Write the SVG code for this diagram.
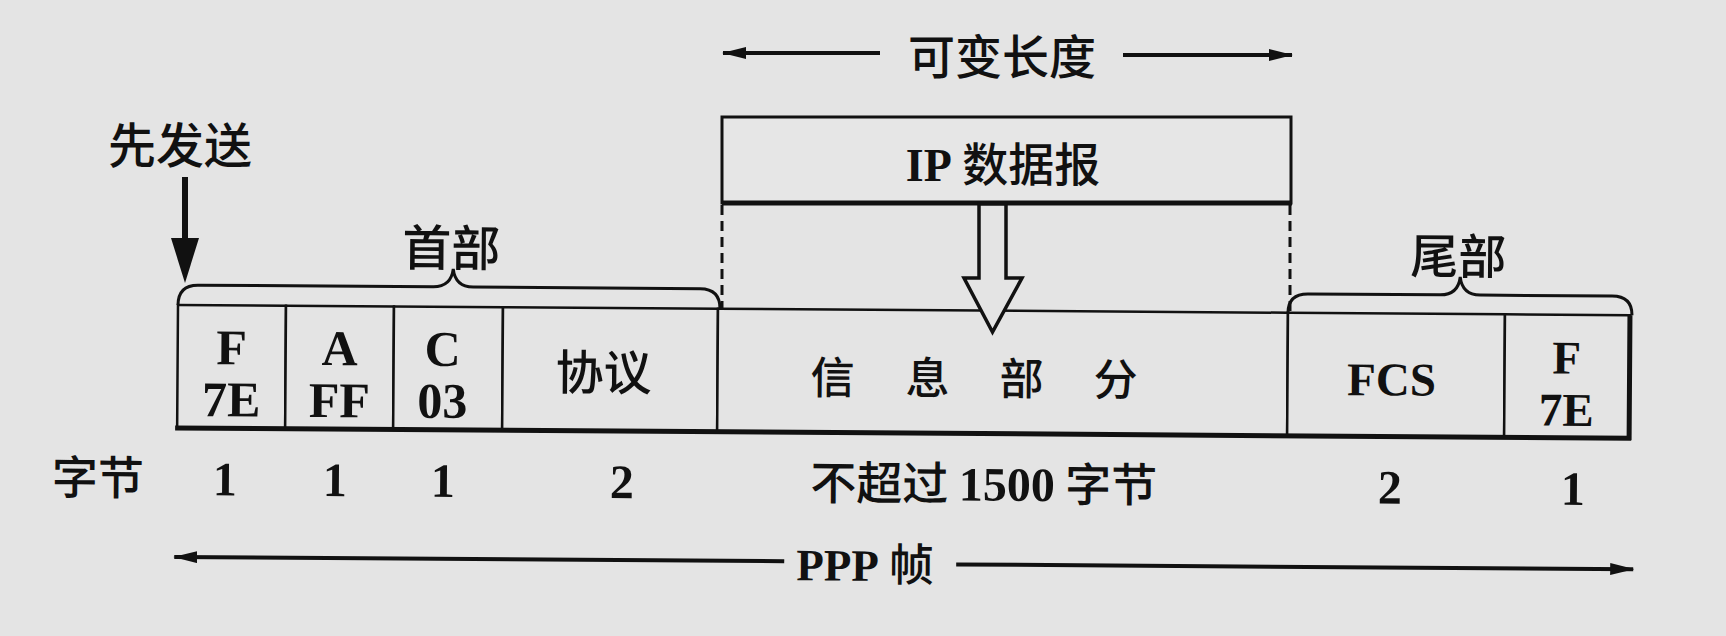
<svg xmlns="http://www.w3.org/2000/svg" width="1726" height="636" viewBox="0 0 1726 636">
<defs>
<style>
.bg{fill:#e4e4e4}
.cell{fill:#e4e4e4;stroke:#111;stroke-width:2.5}
.thick{stroke:#111;stroke-width:5;fill:none}
.ln{stroke:#111;stroke-width:4;fill:none}
.brace{stroke:#111;stroke-width:3;fill:none}
.dash{stroke:#111;stroke-width:3;stroke-dasharray:10 6;fill:none}
.cjk{font-family:"Noto Sans CJK SC","Noto Sans",sans-serif;font-weight:500;fill:#111;text-anchor:middle}
.ser{font-family:"Liberation Serif","Noto Sans CJK SC",serif;font-weight:normal;fill:#111;text-anchor:middle}
.b{font-weight:bold}
</style>
<marker id="ah" viewBox="0 0 24 12" refX="23" refY="6" markerWidth="24" markerHeight="12" markerUnits="userSpaceOnUse" orient="auto-start-reverse">
<path d="M0,0 L24,6 L0,12 z" fill="#111"/>
</marker>
</defs>
<rect class="bg" x="0" y="0" width="1726" height="636"/>

<g id="frame" transform="rotate(0.4 178 305)">
  <g id="cell-F1"><rect class="cell" x="178" y="305" width="108" height="123"/>
    <text class="ser b" x="232" y="364" font-size="50">F</text>
    <text class="ser b" x="232" y="416" font-size="50">7E</text></g>
  <g id="cell-A"><rect class="cell" x="286" y="305" width="108" height="123"/>
    <text class="ser b" x="340" y="364" font-size="50">A</text>
    <text class="ser b" x="340" y="416" font-size="50">FF</text></g>
  <g id="cell-C"><rect class="cell" x="394" y="305" width="109" height="123"/>
    <text class="ser b" x="443" y="364" font-size="50">C</text>
    <text class="ser b" x="443" y="416" font-size="50">03</text></g>
  <g id="cell-proto"><rect class="cell" x="503" y="305" width="215" height="123"/>
    <text class="cjk" x="604" y="387" font-size="48">协议</text></g>
  <g id="cell-info"><rect class="cell" x="718" y="305" width="570" height="123"/>
    <text class="cjk" font-size="44" y="389"><tspan x="833">信</tspan><tspan x="928">息</tspan><tspan x="1022">部</tspan><tspan x="1116">分</tspan></text></g>
  <g id="cell-FCS"><rect class="cell" x="1288" y="305" width="217" height="123"/>
    <text class="ser b" x="1392" y="387" font-size="47">FCS</text></g>
  <g id="cell-F2"><rect class="cell" x="1505" y="305" width="125" height="123"/>
    <text class="ser b" x="1567" y="364" font-size="47">F</text>
    <text class="ser b" x="1567" y="416" font-size="47">7E</text></g>
  <path class="thick" d="M176,428 L1632,428 M1630,305 L1630,430"/>
</g>

<g id="braces" transform="rotate(0.4 178 305)">
  <g id="header-brace">
    <path class="brace" d="M178,305 Q178,285 198,285 L433,285 Q451,285 453,267 Q455,285 473,285 L700,285 Q720,285 720,305"/>
    <text class="cjk" x="451" y="264" font-size="49">首部</text>
  </g>
  <g id="trailer-brace">
    <path class="brace" d="M1288,305 Q1288,286 1308,286 L1440,286 Q1458,286 1460,268 Q1462,286 1480,286 L1612,286 Q1632,286 1632,305"/>
    <text class="cjk" x="1458" y="265" font-size="48">尾部</text>
  </g>
</g>

<g id="ip-datagram">
  <rect x="722" y="117" width="569" height="86" fill="#e6e6e6" stroke="#111" stroke-width="3"/>
  <path class="thick" d="M722,203 L1292,203"/>
  <text x="1003" y="181" font-size="46" class="cjk"><tspan class="ser b">IP</tspan> 数据报</text>
</g>

<g id="send-first">
  <text class="cjk" x="180" y="163" font-size="48">先发送</text>
</g>

<g id="byte-labels" transform="rotate(0.4 178 305)">
  <text class="cjk" x="99" y="495" font-size="46">字节</text>
  <text class="ser b" x="226" y="495" font-size="48">1</text>
  <text class="ser b" x="336" y="495" font-size="48">1</text>
  <text class="ser b" x="444" y="495" font-size="48">1</text>
  <text class="ser b" x="623" y="495" font-size="48">2</text>
  <text class="cjk" x="985" y="495" font-size="46">不超过 <tspan class="ser b" font-size="48">1500</tspan> 字节</text>
  <text class="ser b" x="1391" y="495" font-size="48">2</text>
  <text class="ser b" x="1574" y="495" font-size="48">1</text>
</g>

<g id="var-length">
  <text class="cjk" x="1002" y="74" font-size="47">可变长度</text>
</g>

<g id="ppp-frame" transform="rotate(0.4 178 305)">
  <text class="cjk" x="867" y="576" font-size="45"><tspan class="ser b">PPP</tspan> 帧</text>
</g>

<g id="connectors">
  <line class="ln" x1="880" y1="53" x2="723" y2="53" marker-end="url(#ah)"/>
  <line class="ln" x1="1123" y1="55" x2="1292" y2="55" marker-end="url(#ah)"/>
  <line x1="185" y1="177" x2="185" y2="242" stroke="#111" stroke-width="6"/>
  <polygon points="171,238 199,238 185,283" fill="#111"/>
  <line class="dash" x1="722" y1="205" x2="722" y2="309"/>
  <line class="dash" x1="1290" y1="205" x2="1290" y2="313"/>
  <polygon points="979,204 1006,204 1006,278 1022,278 992.5,332 964,278 979,278" fill="#e4e4e4" stroke="#111" stroke-width="3.5" stroke-linejoin="miter"/>
  <g transform="rotate(0.4 178 305)">
    <line class="ln" x1="786" y1="557" x2="176" y2="557" marker-end="url(#ah)"/>
    <line class="ln" x1="958" y1="559" x2="1635" y2="559" marker-end="url(#ah)"/>
  </g>
</g>
</svg>
